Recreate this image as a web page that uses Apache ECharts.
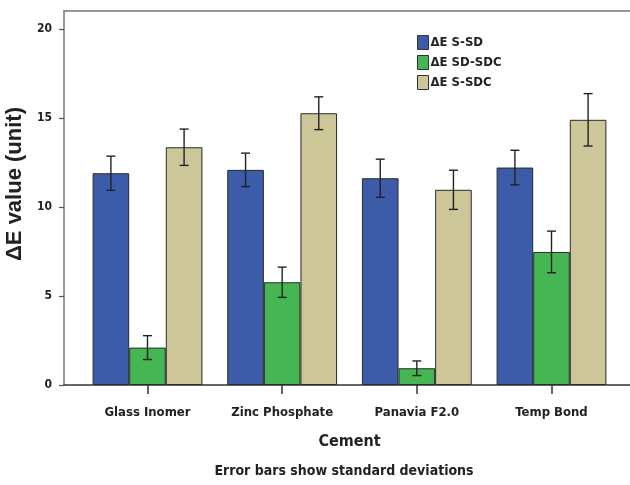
<!DOCTYPE html>
<html>
<head>
<meta charset="utf-8">
<script src="https://cdn.jsdelivr.net/npm/echarts@6/dist/echarts.min.js"></script>
<style>html,body{margin:0;padding:0;background:#fff}#c{width:630px;height:485px}</style>
</head>
<body>
<div id="c"></div>
<script>
const categories = ['Glass Inomer', 'Zinc Phosphate', 'Panavia F2.0', 'Temp Bond'];
const seriesNames = ['\u0394E S-SD', '\u0394E SD-SDC', '\u0394E S-SDC'];
const meanSSD   = [11.89, 12.08, 11.61, 12.21];
const meanSDSDC = [2.10, 5.77, 0.94, 7.47];
const meanSSDC  = [13.35, 15.26, 10.96, 14.89];
const sdSSD   = [0.96, 0.94, 1.07, 0.97];
const sdSDSDC = [0.67, 0.85, 0.41, 1.17];
const sdSSDC  = [1.02, 0.92, 1.10, 1.47];
const yTicks = [0, 5, 10, 15, 20];

const NARROW = "'Liberation Sans Narrow','Arial Narrow','DejaVu Sans Condensed',sans-serif";
const colors = ['#3C5BA9', '#45B653', '#CCC698'];
const BAR_W = 36.6;
const means = [meanSSD, meanSDSDC, meanSSDC];
const sds = [sdSSD, sdSDSDC, sdSSDC];
const xIdx = categories.map((c, i) => i);

const chart = echarts.init(document.getElementById('c'), null, {renderer: 'canvas'});

const barSeries = seriesNames.map((name, s) => ({
  name: name,
  type: 'bar',
  barWidth: BAR_W,
  barGap: '0%',
  itemStyle: {color: colors[s], borderColor: '#2a2a2a', borderWidth: 1},
  data: xIdx.map(i => [i, means[s][i]]),
  z: 2
}));

const errSeries = seriesNames.map((name, s) => ({
  type: 'custom',
  name: 'err' + s,
  z: 5,
  silent: true,
  data: xIdx.map(i => [i, means[s][i], sds[s][i]]),
  encode: {x: 0, y: 1},
  renderItem: function (params, api) {
    const x = api.value(0), m = api.value(1), sd = api.value(2);
    const top = api.coord([x, m + sd]);
    const bot = api.coord([x, m - sd]);
    const cx = top[0] + (s - 1) * BAR_W;
    const cap = 4.5;
    const st = {stroke: '#222', lineWidth: 1.4};
    return {
      type: 'group',
      children: [
        {type: 'line', shape: {x1: cx, y1: top[1], x2: cx, y2: bot[1]}, style: st},
        {type: 'line', shape: {x1: cx - cap, y1: top[1], x2: cx + cap, y2: top[1]}, style: st},
        {type: 'line', shape: {x1: cx - cap, y1: bot[1], x2: cx + cap, y2: bot[1]}, style: st}
      ]
    };
  }
}));

const option = {
  animation: false,
  backgroundColor: '#fff',
  title: {
    text: 'Error bars show standard deviations',
    left: 339, top: 459, textAlign: 'center',
    textStyle: {fontFamily: NARROW, fontSize: 14, fontWeight: 'bold', color: '#222'}
  },
  legend: {
    data: seriesNames,
    orient: 'vertical',
    left: 412, top: 30,
    itemWidth: 11, itemHeight: 14, itemGap: 5,
    icon: 'rect',
    textStyle: {fontFamily: NARROW, fontSize: 13, fontWeight: 'bold', color: '#222', padding: [0, 0, 0, -3]},
    itemStyle: {borderColor: '#333', borderWidth: 1}
  },
  grid: {left: 64, top: 11, right: -5, bottom: 100, outerBoundsMode: 'none', containLabel: false},
  xAxis: [{
    type: 'value',
    min: -0.62, max: 3.62,
    position: 'bottom',
    name: 'Cement',
    nameLocation: 'middle',
    nameGap: 49,
    nameTextStyle: {fontFamily: NARROW, fontSize: 16, fontWeight: 'bold', color: '#222'},
    splitLine: {show: false},
    axisLine: {show: true, onZero: false, lineStyle: {color: '#333', width: 1.5}},
    axisTick: {show: true, length: 9, customValues: xIdx, lineStyle: {color: '#333', width: 1.5}},
    axisLabel: {
      customValues: xIdx,
      margin: 21,
      fontFamily: NARROW, fontSize: 13, fontWeight: 'bold', color: '#222',
      formatter: v => categories[Math.round(v)] || ''
    }
  }, {
    type: 'value',
    min: -0.62, max: 3.62,
    position: 'top',
    splitLine: {show: false},
    axisLine: {show: true, onZero: false, lineStyle: {color: '#777', width: 1.5}},
    axisTick: {show: false},
    axisLabel: {show: false}
  }],
  yAxis: {
    type: 'value',
    min: 0, max: 21, interval: 5,
    name: '\u0394E value (unit)',
    nameLocation: 'middle',
    nameGap: 36,
    nameTextStyle: {fontFamily: "'Liberation Sans',Arial,sans-serif", fontSize: 22, fontWeight: 'bold', color: '#222', padding: [0, 0, 0, 28]},
    splitLine: {show: false},
    axisLine: {show: true, onZero: false, lineStyle: {color: '#777', width: 1.5}},
    axisTick: {show: true, length: 5, customValues: yTicks, lineStyle: {color: '#555', width: 1.2}},
    axisLabel: {
      customValues: yTicks,
      margin: 12,
      fontFamily: NARROW, fontSize: 12, fontWeight: 'bold', color: '#222'
    }
  },
  series: barSeries.concat(errSeries)
};
chart.setOption(option);
</script>
</body>
</html>
